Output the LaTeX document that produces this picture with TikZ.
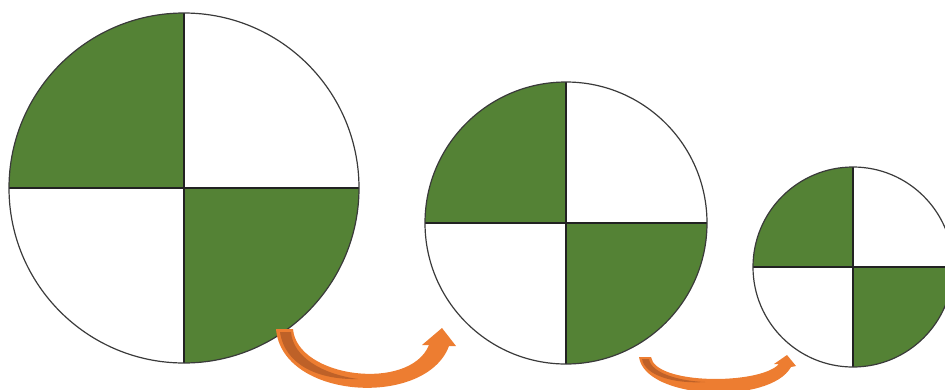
\documentclass[tikz,border=0pt]{standalone}
\usepackage{xcolor}
\usepackage{tikz}
\usetikzlibrary{calc}
\definecolor{pieGreen}{HTML}{548235}
\definecolor{rimGray}{HTML}{3A3A3A}
\definecolor{crossDark}{HTML}{222222}
\definecolor{arrowOrange}{HTML}{ED7D31}
\definecolor{arrowShade}{HTML}{BE6128}
\tikzset{
  quadrant/.style={fill=pieGreen, draw=none},
  rim/.style={draw=rimGray, line width=1.2pt},
  crossline/.style={draw=crossDark, line width=2pt},
  bentarrow/.style={fill=arrowOrange, draw=none},
  bentshade/.style={fill=arrowShade, draw=none}
}
\begin{document}
\begin{tikzpicture}[x=1pt, y=-1pt]
  \useasboundingbox (0,0) rectangle (945,389);
  \clip (0,0) rectangle (945,389);
  % three quartered discs
  \foreach \cx/\cy/\r/\name in {184/188/175/bigdisc, 566/223/141/middisc, 853/267/100/smalldisc} {
    \coordinate (\name) at (\cx,\cy);
    \fill[quadrant] (\name) -- ++(180:\r) arc (180:270:\r) -- cycle;
    \fill[quadrant] (\name) -- ++(0:\r) arc (0:90:\r) -- cycle;
    \draw[crossline] ($(\name)+(-\r,0)$) -- ($(\name)+(\r,0)$);
    \draw[crossline] ($(\name)+(0,-\r)$) -- ($(\name)+(0,\r)$);
    \draw[rim] (\name) circle (\r);
  }
  % curved arrow from big to middle disc
  \fill[bentarrow] (276,329) -- (293,329) .. controls (297,378) and (410,392) .. (429,345)
    -- (422,345) -- (442,328) -- (456,346) -- (449,346)
    .. controls (426,408) and (282,400) .. (276,329) -- cycle;
  \fill[bentshade] (280,332) -- (291,332) .. controls (293,357) and (322,374) .. (358,379)
    .. controls (320,380) and (285,366) .. (280,332) -- cycle;
  % curved arrow from middle to small disc
  \fill[bentarrow] (639,357) -- (651,357) .. controls (655,385) and (760,385) .. (779,364)
    -- (774,364) -- (787,355) -- (796,366) -- (791,367)
    .. controls (770,405) and (645,400) .. (639,357) -- cycle;
  \fill[bentshade] (642,359) -- (649,359) .. controls (651,373) and (679,381) .. (705,382)
    .. controls (675,384) and (645,376) .. (642,359) -- cycle;
\end{tikzpicture}
\end{document}
